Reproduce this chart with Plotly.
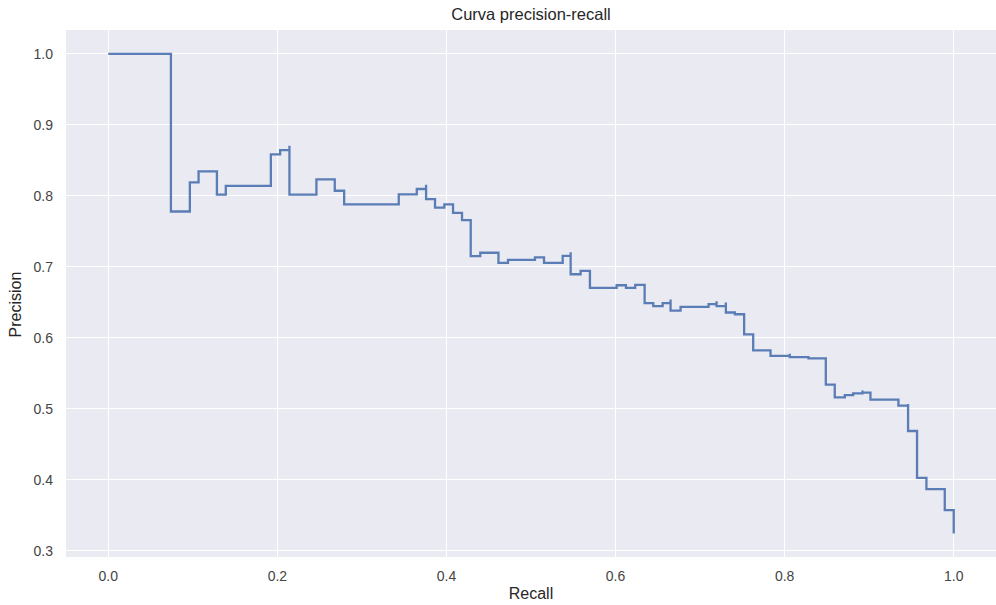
import plotly.graph_objects as go

recall = [0.0, 0.0741, 0.0965, 0.1068, 0.1285, 0.139, 0.1923, 0.2033, 0.2143, 0.2143,
          0.2462, 0.2679, 0.2790, 0.3436, 0.3649, 0.3759, 0.3759, 0.3865, 0.3975, 0.4078,
          0.4184, 0.4287, 0.4400, 0.4615, 0.4728, 0.5047, 0.5154, 0.5375, 0.5469, 0.5469,
          0.5587, 0.5697, 0.6013, 0.6123, 0.6233, 0.6344, 0.6446, 0.6557, 0.6651, 0.6651,
          0.6769, 0.7100, 0.7195, 0.7195, 0.7305, 0.7305, 0.7411, 0.7521, 0.7628, 0.7833,
          0.8061, 0.8061, 0.8282, 0.8487, 0.8593, 0.8712, 0.8810, 0.8921, 0.8921, 0.9015,
          0.9346, 0.9460, 0.9460, 0.9566, 0.9677, 0.9894, 1.0]
precision = [1.0, 0.778, 0.819, 0.8345, 0.8017, 0.814, 0.8584, 0.8646, 0.8706, 0.8017,
             0.8232, 0.8073, 0.788, 0.8021, 0.8097, 0.8158, 0.7956, 0.7834, 0.788, 0.776,
             0.766, 0.7152, 0.7199, 0.7056, 0.7098, 0.7135, 0.7056, 0.7155, 0.7206, 0.6896,
             0.6943, 0.6705, 0.6741, 0.6705, 0.6747, 0.6488, 0.6446, 0.6488, 0.654, 0.6385,
             0.6437, 0.6474, 0.6516, 0.6446, 0.6498, 0.6357, 0.6333, 0.6048, 0.5823, 0.5745,
             0.5776, 0.5729, 0.571, 0.534, 0.5162, 0.5194, 0.5218, 0.526, 0.5228, 0.5129,
             0.5045, 0.5068, 0.4688, 0.4027, 0.3868, 0.3573, 0.3245]

x_ticks = [0.0, 0.2, 0.4, 0.6, 0.8, 1.0]
y_ticks = [0.3, 0.4, 0.5, 0.6, 0.7, 0.8, 0.9, 1.0]

FONT = "Liberation Sans, Arial, sans-serif"
TXT = "#262626"

fig = go.Figure()
fig.add_trace(go.Scatter(x=recall, y=precision, mode="lines", line_shape="hv",
                         line=dict(color="#4C72B0", width=2.3), opacity=0.9,
                         showlegend=False, hoverinfo="skip"))

fig.update_layout(
    width=996, height=605,
    margin=dict(l=66, r=0, t=30, b=48),
    paper_bgcolor="white", plot_bgcolor="#EAEAF2",
    font=dict(family=FONT, color=TXT, size=14),
    title=dict(text="Curva precision-recall", x=0.5, xref="paper", xanchor="center",
               y=1 - 14 / 605, yref="container", yanchor="middle",
               font=dict(size=16.5, color=TXT, family=FONT)),
    xaxis=dict(range=[-0.05, 1.05], tickvals=x_ticks, ticktext=[f"{v:.1f}" for v in x_ticks],
               showgrid=True, gridcolor="white", gridwidth=1.3, zeroline=False,
               showline=False, ticks="", ticklabelstandoff=9, automargin=False,
               tickfont=dict(size=14, color="#444444"),
               title=dict(text="Recall", font=dict(size=16, color=TXT), standoff=4)),
    yaxis=dict(range=[0.29125, 1.03375], tickvals=y_ticks, ticktext=[f"{v:.1f}" for v in y_ticks],
               showgrid=True, gridcolor="white", gridwidth=1.3, zeroline=False,
               showline=False, ticks="", ticklabelstandoff=12, automargin=False,
               tickfont=dict(size=14, color="#444444")),
    annotations=[dict(text="Precision", x=-(66 - 15) / 930, xref="paper", xanchor="center",
                      y=0.5 - 11 / 527, yref="paper", yanchor="middle", textangle=-90,
                      showarrow=False, font=dict(size=16, color=TXT, family=FONT))],
)

fig.write_html("out.html", config={"displayModeBar": False},
               post_script="document.body.style.margin='0';document.body.style.overflow='hidden';")
